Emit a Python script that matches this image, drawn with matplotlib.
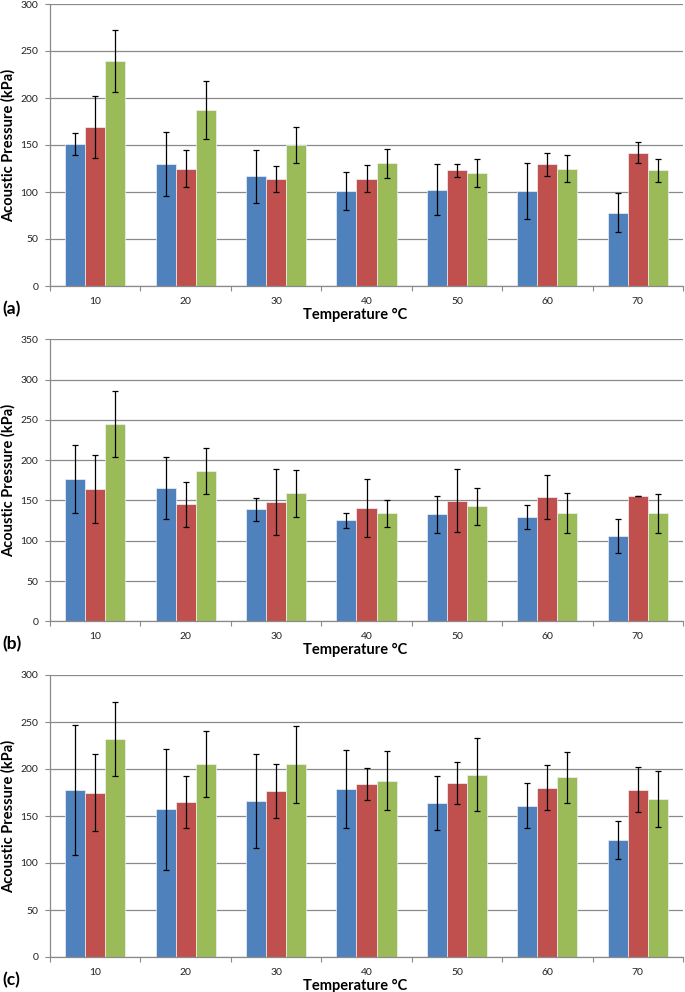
import matplotlib
matplotlib.use("Agg")
import matplotlib.pyplot as plt
import numpy as np

plt.rcParams.update({"font.family": ["Lato", "DejaVu Sans"]})

TEMPS = ["10", "20", "30", "40", "50", "60", "70"]
COLORS = ["#4F81BD", "#C0504D", "#9BBB59"]

# panel (a)
A_MEAN = [[151, 130, 116.5, 101, 102.5, 101, 78],
          [169, 125, 113.5, 114, 123, 129.5, 142],
          [239.5, 187, 150, 130.5, 120.5, 125, 123]]
A_ERR = [[11.5, 34, 28, 20, 27, 30, 21],
         [33, 20, 14, 14.5, 7, 12, 11],
         [33, 31, 19, 15.5, 15, 14.5, 12]]
# panel (b)
B_MEAN = [[177, 165.5, 139, 125.5, 133, 129, 105.5],
          [164.5, 145.5, 147.5, 140.5, 149.5, 154.5, 155.5],
          [245, 187, 159, 134, 142.5, 134.5, 134]]
B_ERR = [[42, 39, 14, 9.5, 23, 15, 21],
         [42, 28, 41, 36, 39, 27, 0.5],
         [40.5, 28.5, 29, 16.5, 23, 24.5, 24.5]]
# panel (c)
C_MEAN = [[178, 157, 166, 178.5, 164, 161, 124.5],
          [175, 165, 176.5, 184, 185, 180, 178],
          [232, 205, 205, 187.5, 194, 191, 168]]
C_ERR = [[69, 64, 50, 41.5, 29, 24, 20],
         [40.5, 28, 28.5, 17, 22.5, 24, 24],
         [39.5, 35, 41, 31.5, 38.5, 27, 29.5]]

PANELS = [("(a)", A_MEAN, A_ERR, 300, 286),
          ("(b)", B_MEAN, B_ERR, 350, 621.3),
          ("(c)", C_MEAN, C_ERR, 300, 957)]

W, H = 685, 992
fig = plt.figure(figsize=(W / 100, H / 100), dpi=100)

GRID = "#8a8a8a"
x = np.arange(len(TEMPS))
bw = 0.222

for label, means, errs, ymax, ybot in PANELS:
    ax = fig.add_axes([50 / W, (H - ybot) / H, 633 / W, 282 / H])
    for i in range(3):
        ax.bar(x + (i - 1) * bw, means[i], bw, color=COLORS[i],
               edgecolor="#eef2f8", lw=0.5, zorder=2)
        ax.errorbar(x + (i - 1) * bw, means[i], yerr=errs[i], fmt="none",
                    ecolor="black", elinewidth=0.9, capsize=2.5,
                    capthick=0.9, zorder=3)
    ax.set_xlim(-0.5, len(TEMPS) - 0.5)
    ax.set_ylim(0, ymax)
    ax.set_yticks(np.arange(0, ymax + 1, 50))
    ax.yaxis.grid(True, color=GRID, lw=0.9, zorder=0)
    ax.set_axisbelow(True)
    ax.set_xticks(x)
    ax.set_xticklabels(TEMPS)
    ax.set_xticks(np.arange(-0.5, len(TEMPS)), minor=True)
    ax.tick_params(axis="x", which="major", length=0, labelsize=7.5,
                   pad=8, labelcolor="#222222")
    ax.tick_params(axis="x", which="minor", length=3.5, color=GRID, width=0.8)
    ax.tick_params(axis="y", length=3.5, color=GRID, width=0.8,
                   labelsize=7.5, pad=5, labelcolor="#222222")
    for s in ("top", "right"):
        ax.spines[s].set_visible(False)
    for s in ("left", "bottom"):
        ax.spines[s].set_color(GRID)
        ax.spines[s].set_linewidth(0.9)
    ax.set_ylabel("Acoustic Pressure (kPa)", fontsize=10.5, fontweight="bold")
    ax.yaxis.set_label_coords(-0.054, 0.5)
    fig.text(355 / W, 1 - (ybot + 29) / H, "Temperature °C", fontsize=10.5,
             fontweight="bold", ha="center", va="center")
    fig.text(2 / W, 1 - (ybot + 23) / H, label, fontsize=12.5,
             fontweight="bold", ha="left", va="center")

fig.savefig("out.png", dpi=100)
